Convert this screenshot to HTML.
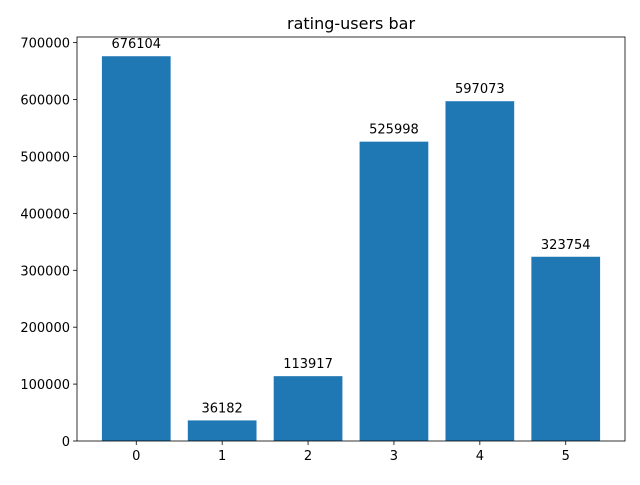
<!DOCTYPE html>
<html><head><meta charset="utf-8"><style>
body{margin:0;background:#fff;font-family:"Liberation Sans","DejaVu Sans",sans-serif;}
</style></head><body>
<svg id="chart" width="640" height="480" xmlns="http://www.w3.org/2000/svg" font-family="DejaVu Sans, Liberation Sans, sans-serif"></svg>
<script>
const categories = ["0","1","2","3","4","5"];
const values = [676104, 36182, 113917, 525998, 597073, 323754];
const yTicks = [0,100000,200000,300000,400000,500000,600000,700000];
const svg = document.getElementById('chart');
const NS = "http://www.w3.org/2000/svg";
const L=77, R=625, T=37, B=441;
const xmin=-0.69, xmax=categories.length-1+0.69;
const ymax=Math.max(...values)*1.05;
const xs = v => L + (v - xmin)/(xmax - xmin)*(R-L);
const ys = v => B - v/ymax*(B-T);
function mk(tag, attrs, parent){const e=document.createElementNS(NS,tag);for(const k in attrs)e.setAttribute(k,attrs[k]);(parent||svg).appendChild(e);return e;}
const t = mk('text',{x:(L+R)/2,y:29,'text-anchor':'middle','font-size':16,fill:'#000'});
t.textContent='rating-users bar';


values.forEach((v,i)=>{
  const x0=xs(i-0.4), x1=xs(i+0.4);
  const r=mk('rect',{x:x0,y:ys(v),width:x1-x0,height:B-ys(v),fill:'#1f77b4'});
  
  
  const lb=mk('text',{x:xs(i),y:ys(v)-8,'text-anchor':'middle','font-size':13,fill:'#000'});
  lb.textContent=String(v);
  
  
  mk('line',{x1:xs(i),x2:xs(i),y1:B,y2:B+4,stroke:'#000','stroke-width':0.8});
  const tl=mk('text',{x:xs(i),y:B+19,'text-anchor':'middle','font-size':13,fill:'#000'});
  tl.textContent=categories[i];
  
  
});
yTicks.forEach(v=>{
  const y=ys(v);
  mk('line',{x1:L-4,x2:L,y1:y,y2:y,stroke:'#000','stroke-width':0.8});
  const tl=mk('text',{x:L-7,y:y+5,'text-anchor':'end','font-size':13,fill:'#000'});
  tl.textContent=String(v);
  
  
});
const f=mk('rect',{x:L,y:T,width:R-L,height:B-T,fill:'none',stroke:'#000','stroke-width':0.8});


</script>
</body></html>
